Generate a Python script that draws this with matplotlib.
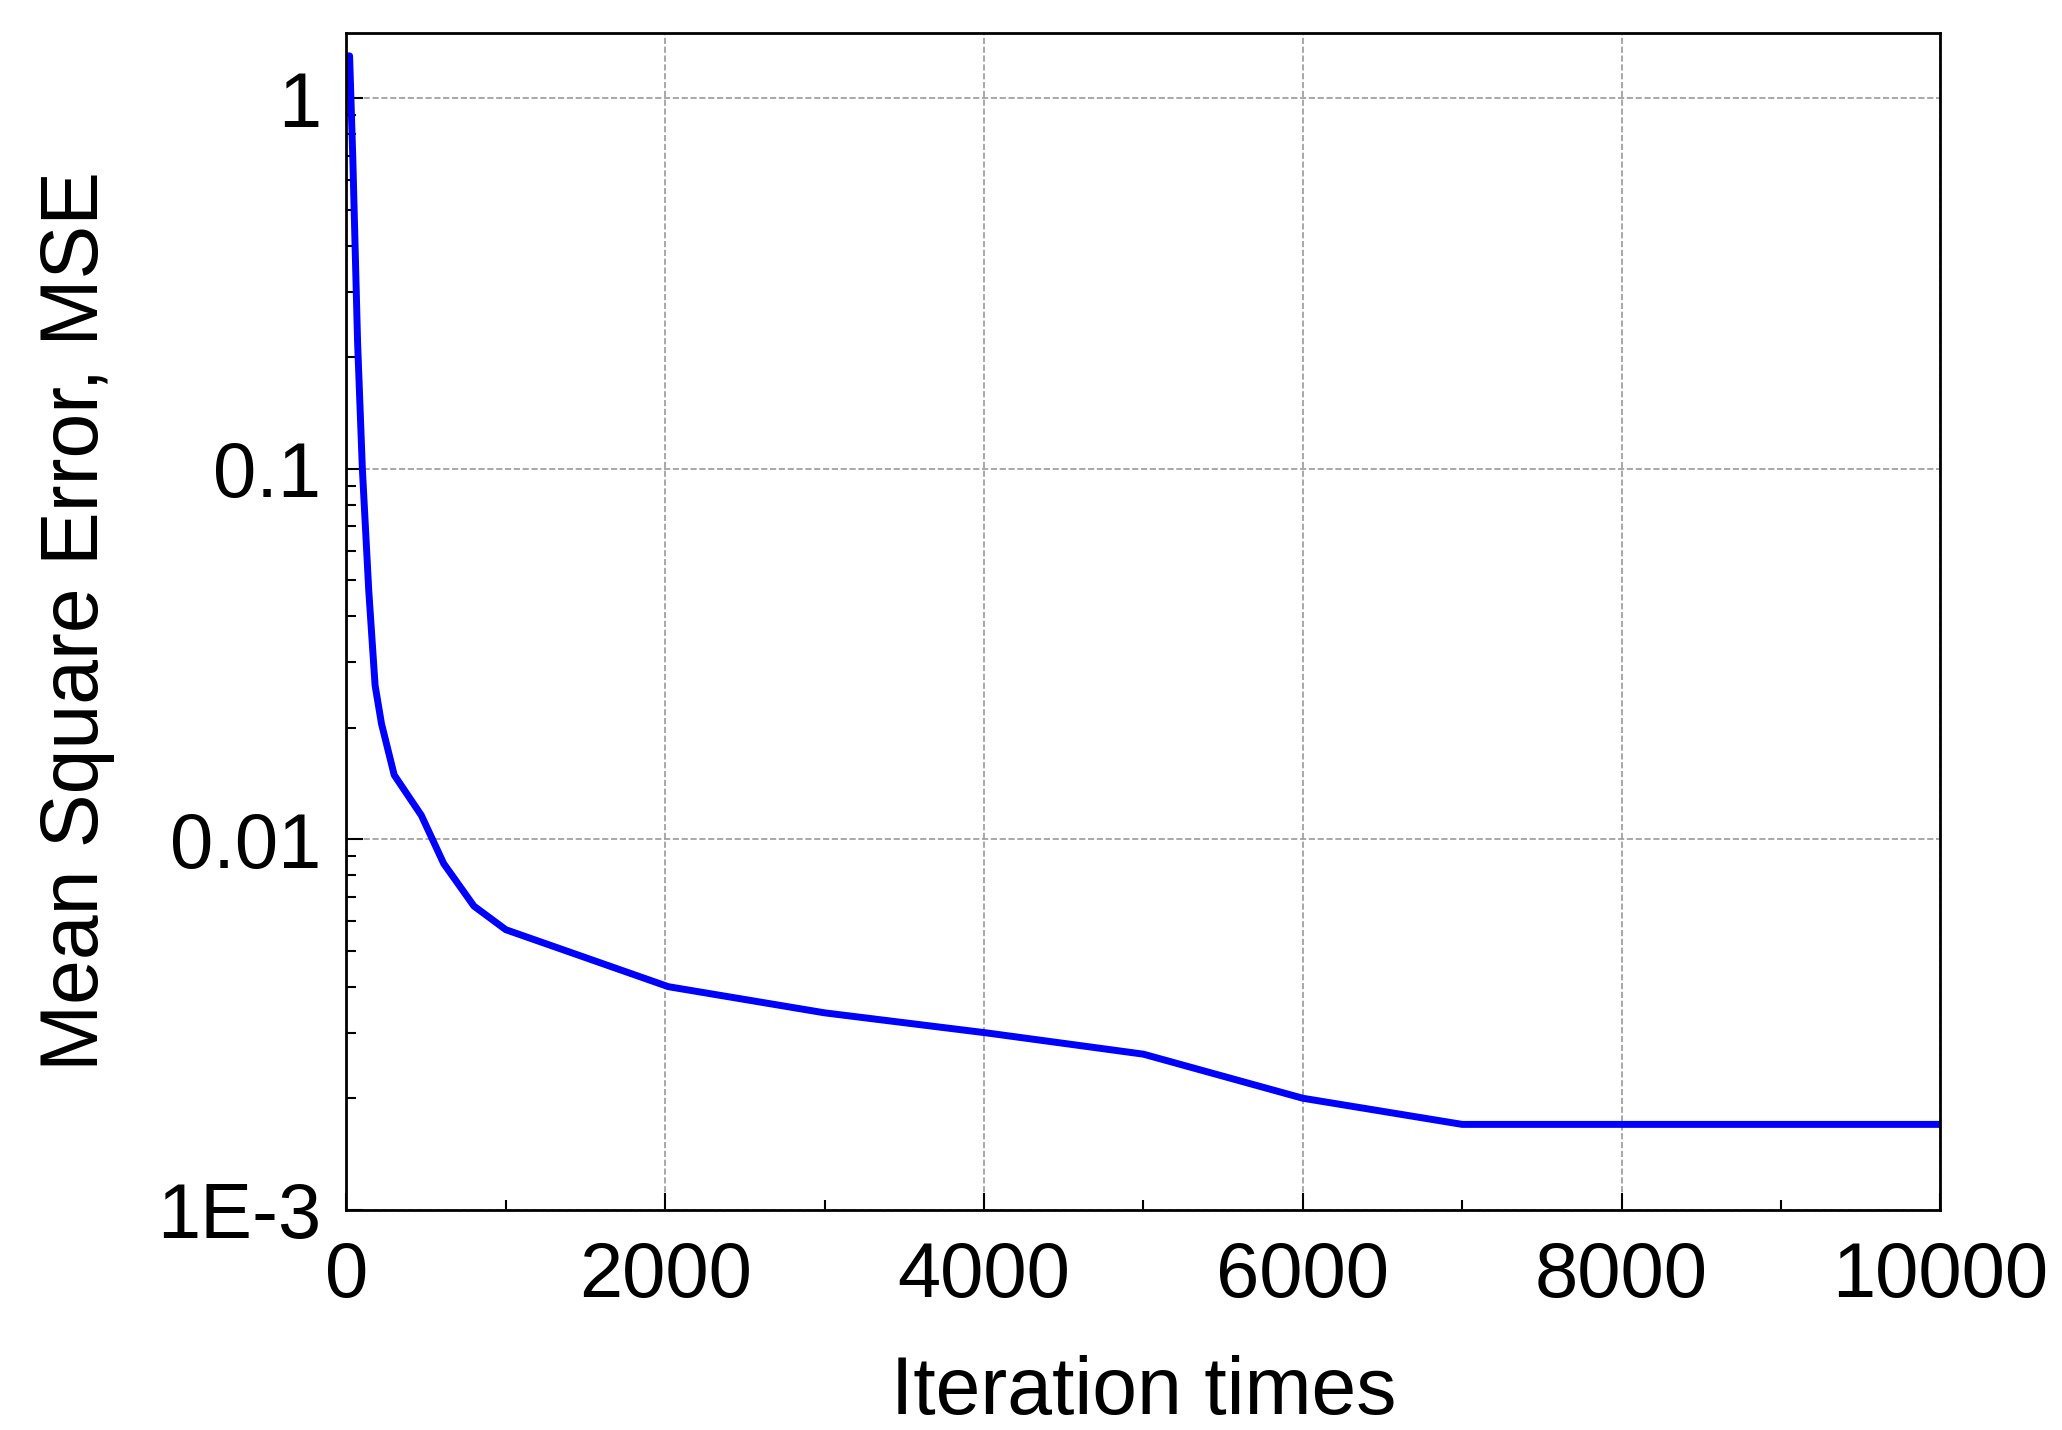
import matplotlib
matplotlib.use("Agg")
import matplotlib.pyplot as plt
from matplotlib.ticker import LogLocator, FixedLocator, MultipleLocator

iterations = [0, 20, 40, 70, 100, 140, 180, 220, 300, 470, 610, 800, 1000, 2020, 3000, 4020, 5000, 6000, 7000, 8000, 9000, 10000]
mse = [1.3, 1.3, 0.69, 0.22, 0.1, 0.047, 0.026, 0.0205, 0.0149, 0.0116, 0.0086, 0.0066, 0.0057, 0.0040, 0.0034, 0.0030, 0.00263, 0.0020, 0.0017, 0.0017, 0.0017, 0.0017]
x_ticks = [0, 2000, 4000, 6000, 8000, 10000]
y_ticks = [1e-3, 1e-2, 1e-1, 1]
y_labels = ["1E-3", "0.01", "0.1", "1"]

plt.rcParams['font.family'] = ['Liberation Sans', 'DejaVu Sans']
fig = plt.figure(figsize=(20.62, 14.3), dpi=100)
ax = fig.add_axes([0.168, 0.154, 0.773, 0.823])
ax.plot(iterations, mse, color='#0000ff', lw=5)
ax.set_yscale('log')
ax.set_xlim(0, 10000)
ax.set_ylim(1e-3, 1.5)
ax.set_xticks(x_ticks)
ax.xaxis.set_minor_locator(MultipleLocator(1000))
ax.yaxis.set_major_locator(FixedLocator(y_ticks))
ax.set_yticklabels(y_labels)
ax.yaxis.set_minor_locator(LogLocator(base=10, subs=range(2, 10)))
ax.tick_params(which='both', direction='in', labelsize=56, width=1.5)
ax.tick_params(which='major', length=12)
ax.tick_params(which='minor', length=7)
ax.tick_params(axis='x', pad=22)
ax.tick_params(axis='y', pad=18)
ax.grid(True, which='major', ls='--', color='#999999', lw=1.2)
for s in ax.spines.values():
    s.set_linewidth(2)
ax.set_xlabel('Iteration times', fontsize=58, labelpad=30)
ax.set_ylabel('Mean Square Error, MSE', fontsize=58, labelpad=30)
fig.savefig('out.png', dpi=100)
